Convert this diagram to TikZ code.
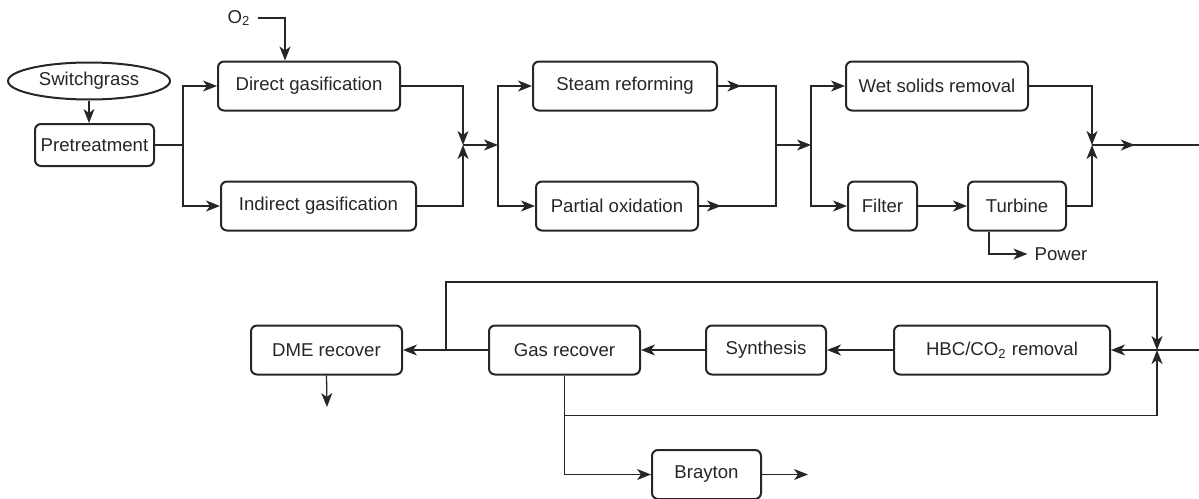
\documentclass[tikz,border=0pt]{standalone}
\usepackage{fontspec}
\setmainfont{Liberation Sans}
\usetikzlibrary{arrows.meta,shapes.geometric,decorations.markings}

\begin{document}
\begin{tikzpicture}[x=0.5pt, y=-0.5pt, line width=0.65pt, color=black!85,
  font=\fontsize{9.3}{11}\selectfont,
  unit/.style={draw, line width=1pt, rounded corners=3pt, minimum height=24.5pt, inner sep=0pt},
  feed/.style={draw, line width=1pt, ellipse, minimum width=81pt, minimum height=18.5pt, inner sep=0pt},
  arr/.style={-{Stealth[length=7pt,width=5.5pt,inset=2pt]}},
  midarr/.style={postaction={decorate}, decoration={markings,
    mark=at position #1 with {\arrow{Stealth[length=7pt,width=5.5pt,inset=2pt]}}}}]
  \useasboundingbox (0,0) rectangle (1199,498);

  % nodes
  \node[feed] (grass) at (89,81) {Switchgrass};
  \node[unit, minimum width=59.5pt, minimum height=21pt] (pre) at (94.5,145) {Pretreatment};
  \node (o2) at (239,18) {O\textsubscript{2}};
  \node[unit, minimum width=91pt]   (direct)   at (309,86)    {Direct gasification};
  \node[unit, minimum width=97.5pt] (indirect) at (318.5,206) {Indirect gasification};
  \node[unit, minimum width=92pt]   (steam)    at (625,86)    {Steam reforming};
  \node[unit, minimum width=81pt]   (partial)  at (617,206)   {Partial oxidation};
  \node[unit, minimum width=91pt]   (wet)      at (937,86)    {Wet solids removal};
  \node[unit, minimum width=34.5pt] (filter)   at (882.5,206) {Filter};
  \node[unit, minimum width=49pt]   (turbine)  at (1017,206)  {Turbine};
  \node[inner sep=3.3pt] (power) at (1061,254) {Power};

  \node[unit, minimum width=75.5pt] (dme)     at (326.5,350) {DME recover};
  \node[unit, minimum width=75.5pt] (gas)     at (564.5,350) {Gas recover};
  \node[unit, minimum width=60pt]   (synth)   at (766,350)   {Synthesis};
  \node[unit, minimum width=108pt]  (hbc)     at (1002,350)  {HBC/CO\textsubscript{2} removal};
  \node[unit, minimum width=54.5pt] (brayton) at (706.5,474.5) {Brayton};

  % junctions
  \coordinate (s1) at (183,145);
  \coordinate (j1) at (463,145);
  \coordinate (s2) at (498,145);
  \coordinate (j2) at (776,145);
  \coordinate (s3) at (811,145);
  \coordinate (j3) at (1092,145);
  \coordinate (out1) at (1199,145);
  \coordinate (in2) at (1199,350);
  \coordinate (j4) at (1157,350);
  \coordinate (tap) at (446,350);
  \coordinate (dmeout) at (327,407);
  \coordinate (brout) at (808,474.5);

  % top row
  \draw[arr] (grass.south) -- (grass.south |- pre.north);
  \draw (pre.east) -- (s1);
  \draw[arr] (s1) |- (direct.west);
  \draw[arr] (s1) |- (indirect.west);
  \draw[arr] (o2.east) -| ([xshift=-12pt]direct.north);
  \draw[arr] (direct.east) -| (j1);
  \draw[arr] (indirect.east) -| (j1);
  \draw[arr] (j1) -- (s2);
  \draw (s2 |- steam.west) -- (s2 |- partial.west);
  \draw[arr] (s2) |- (steam.west);
  \draw[arr] (s2) |- (partial.west);
  \draw[midarr=0.2] (steam.east) -| (j2);
  \draw[midarr=0.16] (partial.east) -| (j2);
  \draw[arr] (j2) -- (s3);
  \draw (s3 |- wet.west) -- (s3 |- filter.west);
  \draw[arr] (s3) |- (wet.west);
  \draw[arr] (s3) |- (filter.west);
  \draw[arr] (filter) -- (turbine);
  \draw[arr] ([xshift=-14pt]turbine.south) |- (power.west);
  \draw[arr] (wet.east) -| (j3);
  \draw[arr] (turbine.east) -| (j3);
  \draw[midarr=0.4] (j3) -- (out1);

  % bottom row
  \draw (in2) -- (j4);
  \draw[arr] (j4) -- (hbc.east);
  \draw[arr] (hbc) -- (synth);
  \draw[arr] (synth) -- (gas);
  \draw[arr] (gas) -- (dme);
  \draw[arr] (dme.south) -- (dmeout);
  \draw[arr] (tap) -- ++(0,-68) -| (j4);
  \draw[arr] (gas.south) -- ++(0,40) -| (j4);
  \draw[arr] (gas.south) |- (brayton.west);
  \draw[arr] (brayton.east) -- (brout);
\end{tikzpicture}
\end{document}
